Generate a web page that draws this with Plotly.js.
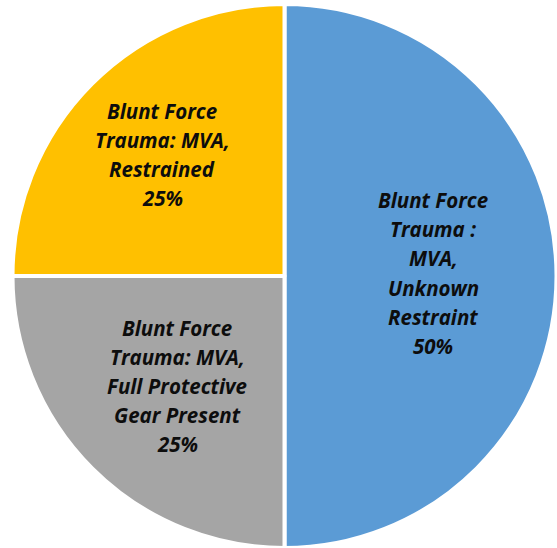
<!DOCTYPE html>
<html>
<head>
<meta charset="utf-8">
<script src="https://cdn.plot.ly/plotly-3.0.1.min.js"></script>
<style>html,body{margin:0;padding:0;background:#fff;}#chart{width:557px;height:548px;}</style>
</head>
<body>
<div id="chart"></div>
<script>
const categories = [
  "Blunt Force Trauma : MVA, Unknown Restraint",
  "Blunt Force Trauma: MVA, Full Protective Gear Present",
  "Blunt Force Trauma: MVA, Restrained"
];
const values = [50, 25, 25];
const percentLabels = ["50%", "25%", "25%"];
const labelLines = [
  ["Blunt Force", "Trauma :", "MVA,", "Unknown", "Restraint"],
  ["Blunt Force", "Trauma: MVA,", "Full Protective", "Gear Present"],
  ["Blunt Force", "Trauma: MVA,", "Restrained"]
];
const colors = ["#5B9BD5", "#A5A5A5", "#FFC000"];

const W = 557, H = 548;
// label block centres in pixels
const labelCentres = [[433, 273], [177, 386], [162, 154.5]];
const lineGap = 29.2;

const annotations = [];
labelLines.forEach((lines, i) => {
  const all = lines.concat([percentLabels[i]]);
  const n = all.length;
  all.forEach((t, k) => {
    const py = labelCentres[i][1] + (k - (n - 1) / 2) * lineGap;
    annotations.push({
      xref: "paper", yref: "paper",
      x: labelCentres[i][0] / W, y: 1 - py / H,
      xanchor: "center", yanchor: "middle",
      text: "<b><i>" + t + "</i></b>",
      showarrow: false,
      font: {family: "'Open Sans', sans-serif", size: 20.5, color: "#0d0d0d"}
    });
  });
});

const data = [{
  type: "pie",
  labels: categories,
  values: values,
  sort: false,
  direction: "clockwise",
  rotation: 0,
  marker: {colors: colors, line: {color: "#ffffff", width: 4}},
  textinfo: "none",
  hoverinfo: "label+percent",
  domain: {x: [12 / W, 1], y: [0, 1 - 4 / H]}
}];

const layout = {
  width: W, height: H,
  margin: {l: 0, r: 0, t: 0, b: 0},
  showlegend: false,
  paper_bgcolor: "#ffffff",
  annotations: annotations
};

Plotly.newPlot("chart", data, layout, {displayModeBar: false, staticPlot: true});
</script>
</body>
</html>
